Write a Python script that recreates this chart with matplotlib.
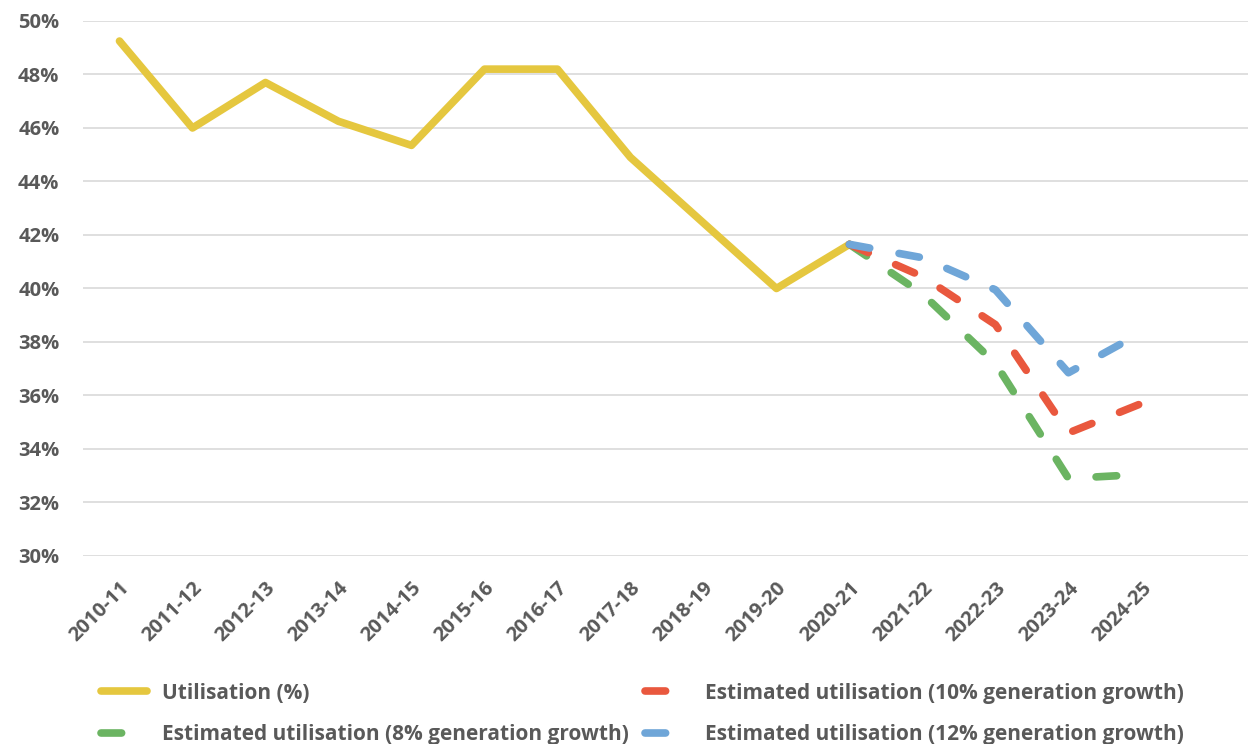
import numpy as np
import matplotlib
matplotlib.use("Agg")
import matplotlib.pyplot as plt
from matplotlib.ticker import FuncFormatter

plt.rcParams['font.family'] = ['Open Sans', 'DejaVu Sans']

years = ["2010-11", "2011-12", "2012-13", "2013-14", "2014-15", "2015-16",
         "2016-17", "2017-18", "2018-19", "2019-20", "2020-21", "2021-22",
         "2022-23", "2023-24", "2024-25"]

# actual utilisation, 2010-11 .. 2020-21
utilisation = [49.25, 46.0, 47.7, 46.25, 45.35, 48.2, 48.2, 44.9, 42.45, 40.0, 41.65]

# projections, 2020-21 .. 2024-25
growth_8 = [41.65, 39.8, 37.2, 32.9, 33.05]
growth_10 = [41.65, 40.45, 38.65, 34.6, 35.7]
growth_12 = [41.65, 41.15, 39.95, 36.85, 38.35]

grey = '#595959'
x = np.arange(len(years))
xp = x[10:]

fig = plt.figure(figsize=(12.48, 7.44), dpi=100)
ax = fig.add_axes([0.0665, 0.2527, 0.9335, 0.7191])

lw = 5.5
dash = (2.7, 3.9)
ax.plot(x[:len(utilisation)], utilisation, color='#E5C73F', lw=lw,
        solid_capstyle='round', solid_joinstyle='round', label='Utilisation (%)')
ax.plot(xp, growth_8, color='#6BB462', lw=lw, dashes=dash, dash_capstyle='round',
        label='Estimated utilisation (8% generation growth)')
ax.plot(xp, growth_10, color='#E9583E', lw=lw, dashes=dash, dash_capstyle='round',
        label='Estimated utilisation (10% generation growth)')
ax.plot(xp, growth_12, color='#6FA6D8', lw=lw, dashes=dash, dash_capstyle='round',
        label='Estimated utilisation (12% generation growth)')

ax.set_ylim(30, 50)
ax.set_yticks(np.arange(30, 51, 2))
ax.yaxis.set_major_formatter(FuncFormatter(lambda v, p: f"{v:.0f}%"))
ax.set_xlim(-0.5, 15.46)
ax.set_xticks(x)
ax.set_xticklabels(years, rotation=45, ha='right', rotation_mode='anchor')
ax.grid(axis='y', color='#D9D9D9', lw=1.2)
ax.set_axisbelow(True)
for s in ax.spines.values():
    s.set_visible(False)
ax.tick_params(length=0, labelsize=14.5, labelcolor=grey)
for t in ax.get_xticklabels() + ax.get_yticklabels():
    t.set_fontweight('bold')
ax.tick_params(axis='x', pad=16)
ax.tick_params(axis='y', pad=17)

handles, labels = ax.get_legend_handles_labels()
leg = fig.legend(handles, labels, ncol=2, loc='lower left',
                 bbox_to_anchor=(0.066, -0.027), frameon=False,
                 fontsize=15, handlelength=2.2, columnspacing=0.8,
                 labelspacing=1.0, handletextpad=0.7)
for t in leg.get_texts():
    t.set_color(grey)
    t.set_fontweight('bold')

fig.savefig('out.png', dpi=100)
